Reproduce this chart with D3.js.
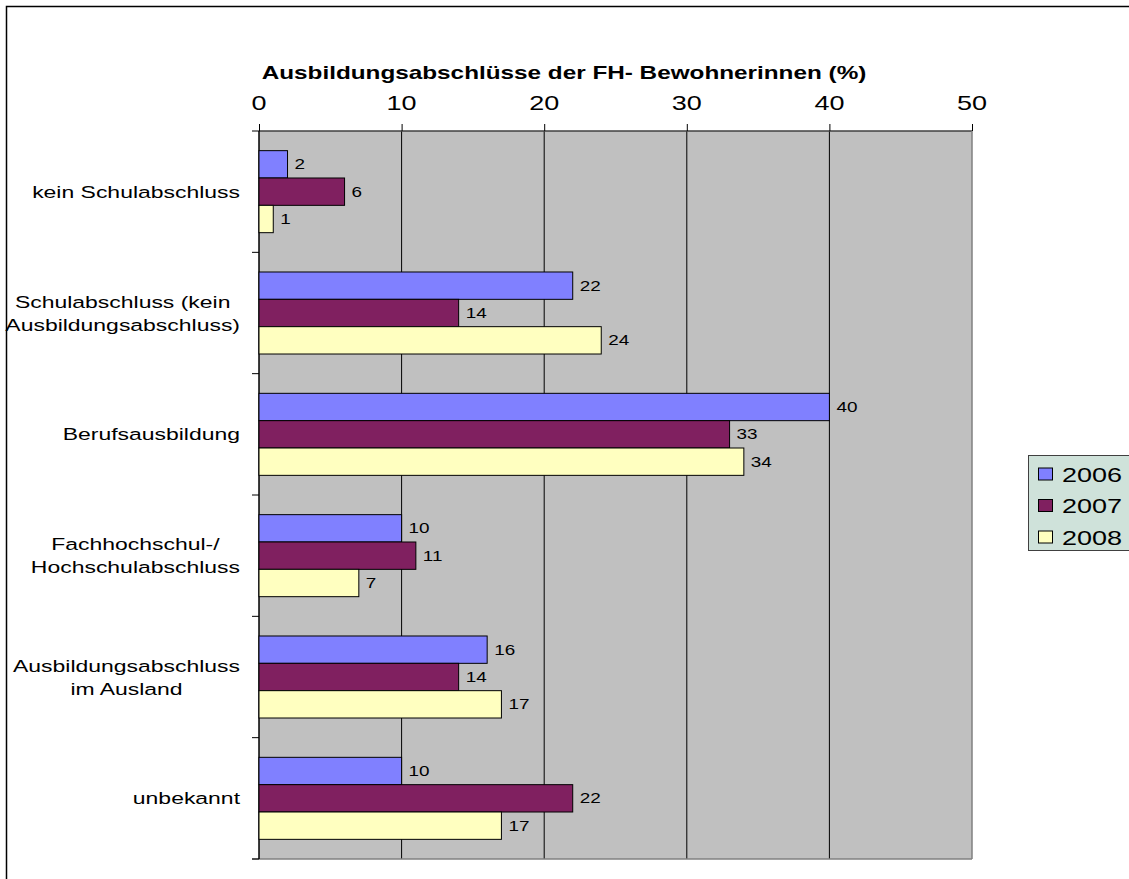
<!DOCTYPE html>
<html>
<head>
<meta charset="utf-8">
<script src="https://cdn.jsdelivr.net/npm/d3@7"></script>
<style>
  body { margin: 0; background: #fff; }
  text { font-family: "Liberation Sans", Arial, sans-serif; fill: #000; }
</style>
</head>
<body>
<script>
// data
var categories = [
    ["kein Schulabschluss"],
    ["Schulabschluss (kein", "Ausbildungsabschluss)"],
    ["Berufsausbildung"],
    ["Fachhochschul-/", "Hochschulabschluss"],
    ["Ausbildungsabschluss", "im Ausland"],
    ["unbekannt"]
];
var years = ["2006", "2007", "2008"];
var values2006 = [2, 22, 40, 10, 16, 10];
var values2007 = [6, 14, 33, 11, 14, 22];
var values2008 = [1, 24, 34, 7, 17, 17];
var xTicks = [0, 10, 20, 30, 40, 50];
var colors = ["#8080ff", "#802060", "#ffffc0"];

var series = [values2006, values2007, values2008];
var w = 1129, h = 879;
var sx = 1.35; // the original picture is stretched sideways

var svg = d3.select("body").append("svg")
    .attr("width", w)
    .attr("height", h);

svg.append("rect").attr("width", w).attr("height", h).attr("fill", "#fff");
// chart frame (runs off the right and bottom)
svg.append("rect")
    .attr("x", 6.5).attr("y", 6.5)
    .attr("width", 1300).attr("height", 1000)
    .attr("fill", "none").attr("stroke", "#000").attr("stroke-width", 1.5);

function stretchText(g, x, y, str) {
    return g.append("text")
        .attr("transform", "translate(" + x + "," + y + ") scale(" + sx + ",1)")
        .text(str);
}

var plotLeft = 259, plotRight = 972, plotTop = 131, plotBottom = 859;

var xScale = d3.scaleLinear().domain([0, 50]).range([plotLeft, plotRight]);
var yScale = d3.scaleBand()
    .domain(d3.range(categories.length))
    .range([plotTop, plotBottom])
    .paddingInner(0.324)
    .paddingOuter(0.162);
var yInner = d3.scaleBand().domain(years).range([0, yScale.bandwidth()]);

// plot background
svg.append("rect")
    .attr("x", plotLeft).attr("y", plotTop)
    .attr("width", plotRight - plotLeft).attr("height", plotBottom - plotTop)
    .attr("fill", "#c0c0c0");

// grid lines
svg.selectAll(".grid")
    .data(xTicks.slice(1, -1))
    .enter().append("line")
    .attr("x1", d => xScale(d)).attr("x2", d => xScale(d))
    .attr("y1", plotTop).attr("y2", plotBottom)
    .attr("stroke", "#000").attr("stroke-width", 1);

// plot border
svg.append("line").attr("x1", plotLeft).attr("x2", plotRight).attr("y1", plotTop).attr("y2", plotTop)
    .attr("stroke", "#404040").attr("stroke-width", 1.5);
svg.append("line").attr("x1", plotRight).attr("x2", plotRight).attr("y1", plotTop).attr("y2", plotBottom)
    .attr("stroke", "#808080").attr("stroke-width", 1.5);
svg.append("line").attr("x1", plotLeft - 7).attr("x2", plotRight).attr("y1", plotBottom).attr("y2", plotBottom)
    .attr("stroke", "#808080").attr("stroke-width", 1.5);

// top axis
var xAxis = d3.axisTop(xScale).tickValues(xTicks).tickSize(7).tickFormat("");
svg.append("g")
    .attr("transform", "translate(0," + plotTop + ")")
    .call(xAxis)
    .call(g => g.select(".domain").remove())
    .call(g => g.selectAll(".tick line").attr("stroke", "#000"));

var tickLabels = svg.append("g").attr("font-size", 20).attr("text-anchor", "middle");
xTicks.forEach(function(t) {
    stretchText(tickLabels, xScale(t), 110, t);
});

// left axis with ticks between categories
svg.append("line").attr("x1", plotLeft).attr("x2", plotLeft).attr("y1", plotTop).attr("y2", plotBottom)
    .attr("stroke", "#000").attr("stroke-width", 1.5);
var step = yScale.step();
svg.selectAll(".ytick")
    .data(d3.range(categories.length + 1))
    .enter().append("line")
    .attr("x1", plotLeft - 7).attr("x2", plotLeft)
    .attr("y1", d => plotTop + d * step).attr("y2", d => plotTop + d * step)
    .attr("stroke", "#000");

// category labels
var catG = svg.append("g").attr("font-size", 17);
categories.forEach(function(lines, i) {
    var cy = yScale(i) + yScale.bandwidth() / 2;
    var lh = 23;
    var ys = lines.map((l, k) => cy + (k - (lines.length - 1) / 2) * lh + 6);
    var texts = lines.map(function(l, k) {
        return stretchText(catG, 0, ys[k], l).attr("text-anchor", "middle");
    });
    var maxW = d3.max(texts, t => t.node().getComputedTextLength() * sx);
    var cx = 240 - maxW / 2;
    texts.forEach(function(t, k) {
        t.attr("transform", "translate(" + cx + "," + ys[k] + ") scale(" + sx + ",1)");
    });
});

// bars
var labelG = svg.append("g").attr("font-size", 14);
series.forEach(function(vals, s) {
    svg.append("g").selectAll("rect")
        .data(vals)
        .enter().append("rect")
        .attr("x", xScale(0))
        .attr("y", (d, i) => yScale(i) + yInner(years[s]))
        .attr("width", d => xScale(d) - xScale(0))
        .attr("height", yInner.bandwidth())
        .attr("fill", colors[s])
        .attr("stroke", "#000").attr("stroke-width", 1);
    vals.forEach(function(d, i) {
        stretchText(labelG, xScale(d) + 7, yScale(i) + yInner(years[s]) + yInner.bandwidth() / 2 + 5, d);
    });
});

// title
var titleG = svg.append("g").attr("font-size", 18).attr("font-weight", "bold").attr("text-anchor", "middle");
stretchText(titleG, 564, 79, "Ausbildungsabschlüsse der FH- Bewohnerinnen (%)");

// legend
var legend = svg.append("g");
legend.append("rect")
    .attr("x", 1028.5).attr("y", 455.5)
    .attr("width", 120).attr("height", 95)
    .attr("fill", "#cfe2da").attr("stroke", "#404040").attr("stroke-width", 1);
years.forEach(function(y, i) {
    var cy = 474 + i * 31.5;
    legend.append("rect")
        .attr("x", 1038.5).attr("y", cy - 6)
        .attr("width", 14).attr("height", 12)
        .attr("fill", colors[i]).attr("stroke", "#000");
    stretchText(legend, 1062, cy + 7.5, y).attr("font-size", 20);
});
</script>
</body>
</html>
